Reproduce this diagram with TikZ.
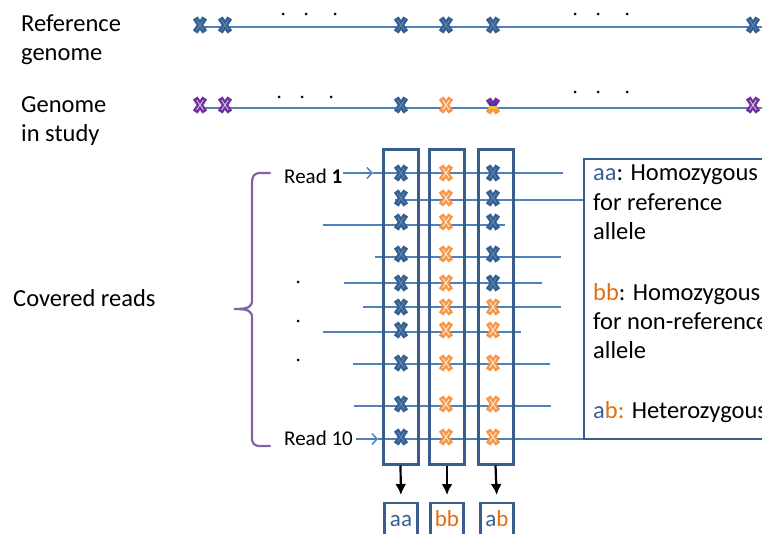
\documentclass[tikz,border=0pt]{standalone}
\usepackage{fontspec}
\setmainfont{Carlito}
\usetikzlibrary{arrows.meta}
\definecolor{crossblue}{RGB}{55,96,146}
\definecolor{innerblue}{RGB}{90,130,180}
\definecolor{linecol}{RGB}{79,129,189}
\definecolor{boxcol}{RGB}{56,93,138}
\definecolor{xorange}{RGB}{247,150,70}
\definecolor{innerorange}{RGB}{253,228,205}
\definecolor{txtorange}{RGB}{228,108,10}
\definecolor{xpurple}{RGB}{112,48,160}
\definecolor{innerpurple}{RGB}{205,185,225}
\definecolor{bracecol}{RGB}{128,100,162}
\definecolor{txtblue}{RGB}{55,96,146}
\definecolor{mixblue}{RGB}{40,60,230}
\definecolor{mixyellow}{RGB}{255,190,40}
\newcommand\xcross[2]{%
  \draw[#1,line width=5.6pt] (-4.8,-7)--(4.8,7) (-4.8,7)--(4.8,-7);
  \draw[#2,line width=1pt] (-3.3,-4.8)--(3.3,4.8) (-3.3,4.8)--(3.3,-4.8);}
\tikzset{
  pics/xblue/.style={code={\xcross{crossblue}{innerblue}}},
  pics/xor/.style={code={\xcross{xorange}{innerorange}}},
  pics/xpur/.style={code={\xcross{xpurple}{innerpurple}}},
  bigtxt/.style={font=\fontsize{24.5}{29.5}\selectfont, inner sep=0pt, anchor=base west},
  readtxt/.style={font=\fontsize{21}{25}\selectfont, inner sep=0pt, anchor=base west},
  gline/.style={linecol, line width=2pt},
  rline/.style={linecol, line width=1.5pt},
  colbox/.style={draw=boxcol, line width=3pt, minimum width=35pt, minimum height=314pt, inner sep=0pt},
  resbox/.style={draw=boxcol, line width=2.4pt, minimum width=33pt, minimum height=45pt, inner sep=0pt, anchor=north},
  restxt/.style={font=\fontsize{23}{27}\selectfont, inner sep=0pt, anchor=base},
  dotmk/.style={fill=black, circle, inner sep=0pt, minimum size=3pt},
  downarr/.style={black, line width=2.2pt, -{Latex[length=11pt,width=11pt]}},
  readarr/.style={linecol, line width=1.5pt, -{Straight Barb[length=5pt,width=11pt]}},
}
\begin{document}
\begin{tikzpicture}[x=1pt,y=-1pt]
\useasboundingbox (0,0) rectangle (762,534);
\clip (0,0) rectangle (762,534);

% left labels
\node[bigtxt] (ref1) at (21,32) {Reference};
\node[bigtxt] (ref2) at (21,61) {genome};
\node[bigtxt] (gis1) at (21,113) {Genome};
\node[bigtxt] (gis2) at (21,142) {in study};
\node[bigtxt] (cov) at (13,306) {Covered reads};

% genome lines
\coordinate (g1s) at (200,27); \coordinate (g1e) at (770,27);
\coordinate (g2s) at (200,108); \coordinate (g2e) at (770,108);
\draw[gline] (g1s) -- (g1e);
\draw[gline] (g2s) -- (g2e);
\foreach \x [count=\i] in {283,306,335,575,598,627} {
  \node[dotmk] (da\i) at (\x,14) {};
}
\foreach \x [count=\i] in {279,302,331} {
  \node[dotmk] (db\i) at (\x,97) {};
}
\foreach \x [count=\i] in {575,598,627} {
  \node[dotmk] (dc\i) at (\x,92) {};
}
\foreach \x in {200,225,401,446,493,753} { \pic at (\x,25) {xblue}; }
\pic at (200,105) {xpur};
\pic at (225,105) {xpur};
\pic at (401,105) {xblue};
\pic at (446,105) {xor};
\pic at (753,105) {xpur};
\begin{scope}[shift={(493,106)}]
  \begin{scope}\clip (-9,-11) rectangle (9,-2); \xcross{xpurple}{xpurple} \end{scope}
  \begin{scope}\clip (-9,-2) rectangle (9,1); \xcross{mixblue}{mixblue} \end{scope}
  \begin{scope}\clip (-9,1) rectangle (9,4); \xcross{mixyellow}{mixyellow} \end{scope}
  \begin{scope}\clip (-9,4) rectangle (9,11); \xcross{xorange}{xorange} \end{scope}
\end{scope}

% read labels
\node[readtxt] (read1) at (284,184) {Read \textbf{1}};
\node[readtxt] (read10) at (284,445) {Read 10};
\coordinate (a1s) at (343,173); \coordinate (a1e) at (373,173);
\coordinate (a10s) at (356,439); \coordinate (a10e) at (378,439);
\draw[readarr] (a1s) -- (a1e);
\draw[readarr] (a10s) -- (a10e);

% read lines
\draw[rline] (a1e) -- (563,173);
\draw[rline] (395,200) -- (583,200);
\draw[rline] (323,225) -- (505,225);
\draw[rline] (375,257) -- (561,257);
\draw[rline] (344,283) -- (542,283);
\draw[rline] (363,307) -- (561,307);
\draw[rline] (323,332) -- (521,332);
\draw[rline] (353,364) -- (550,364);
\draw[rline] (354,406) -- (551,406);
\draw[rline] (a10e) -- (583,439);

% dots
\node[dotmk] (v1) at (298,282) {};
\node[dotmk] (v2) at (298,321) {};
\node[dotmk] (v3) at (298,360) {};

% brace
\draw[bracecol, line width=2.2pt, line cap=round]
  (270,173) -- (261,173) .. controls (254,173) and (252,176) .. (252,183)
  -- (252,300) .. controls (252,307) and (249,309) .. (234,309)
  .. controls (249,309) and (252,311) .. (252,318)
  -- (252,437) .. controls (252,444) and (254,446) .. (261,446) -- (270,446);

% column boxes
\node[colbox] (c1) at (400.5,307) {};
\node[colbox] (c2) at (447,307) {};
\node[colbox] (c3) at (495.5,307) {};

% crosses in reads
\foreach \y in {173,198,222,254,283,307,330,363,404,437} {
  \pic at (401,\y) {xblue};
  \pic at (446,\y) {xor};
}
\foreach \y in {173,198,222,254,283} { \pic at (493,\y) {xblue}; }
\foreach \y in {307,330,363,404,437} { \pic at (493,\y) {xor}; }

% result boxes
\node[resbox] (r1) at (401,502) {};
\node[resbox] (r2) at (447,502) {};
\node[resbox] (r3) at (497,502) {};
\node[restxt, text=txtblue] (t1) at (401,526) {aa};
\node[restxt, text=txtorange] (t2) at (447,526) {bb};
\node[restxt] (t3) at (497,526) {\textcolor{txtblue}{a}\textcolor{txtorange}{b}};
\draw[downarr, shorten >=7pt] (c1.south) -- (r1.north);
\draw[downarr, shorten >=7pt] (c2.south) -- (r2.north);
\draw[downarr, shorten >=7pt] (c3.south) -- (r3.north);

% legend
\node[draw=boxcol, line width=2.4pt, minimum width=240pt, minimum height=280pt, anchor=north west, inner sep=0pt] (leg) at (583,158) {};
\node[bigtxt] (l1) at (593,181) {\textcolor{txtblue}{aa}: Homozygous};
\node[bigtxt] (l2) at (593,211) {for reference};
\node[bigtxt] (l3) at (593,240) {allele};
\node[bigtxt] (l4) at (593,300) {\textcolor{txtorange}{bb}: Homozygous};
\node[bigtxt] (l5) at (593,329) {for non-reference};
\node[bigtxt] (l6) at (593,358) {allele};
\node[bigtxt] (l7) at (593,418) {\textcolor{txtblue}{a}\textcolor{txtorange}{b:} Heterozygous};
\end{tikzpicture}
\end{document}
